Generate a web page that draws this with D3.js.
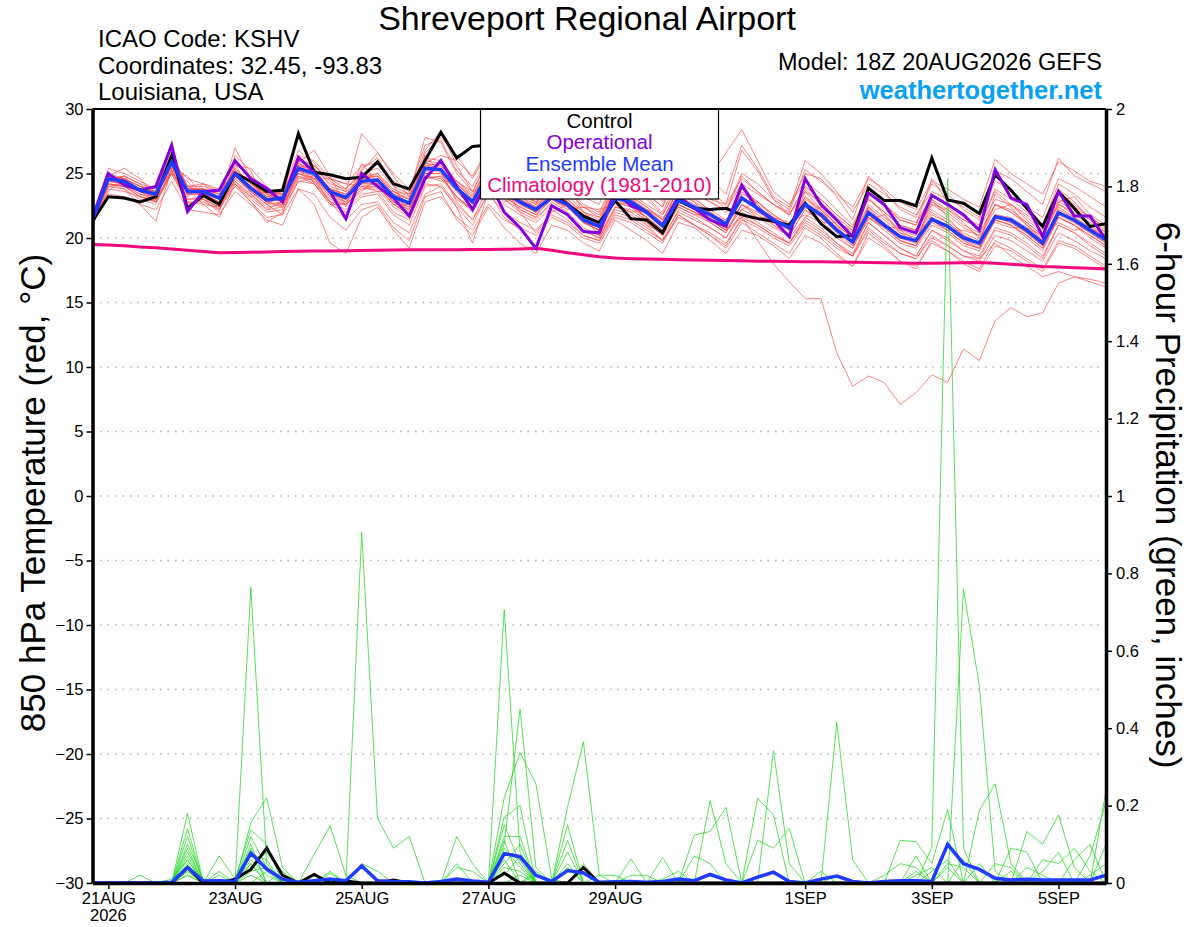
<html>
<head>
<meta charset="utf-8">
<script src="https://d3js.org/d3.v7.min.js"></script>
<style>
  body {margin: 0; background: #fff;}
  text {font-family: "Liberation Sans", Arial, Helvetica, sans-serif;}
</style>
</head>
<body>
<svg id="chart" width="1200" height="927"></svg>
<script>
// ---- data (GEFS 18Z 20AUG2026, 6-hourly, 65 steps) ----
var runStart = new Date(Date.UTC(2026, 7, 20, 18));
var stepHours = 6;
var stepCount = 65;

var tickDates = ["2026-08-21", "2026-08-23", "2026-08-25", "2026-08-27", "2026-08-29", "2026-09-01", "2026-09-03", "2026-09-05"];
var tickLabels = ["21AUG", "23AUG", "25AUG", "27AUG", "29AUG", "1SEP", "3SEP", "5SEP"];
var tempTicks = [-30, -25, -20, -15, -10, -5, 0, 5, 10, 15, 20, 25, 30];
var precipTicks = [0, 0.2, 0.4, 0.6, 0.8, 1, 1.2, 1.4, 1.6, 1.8, 2];

var controlTemp = [21.3,
  23.2,23.1,22.8,23.2, 26.4,22.3,23.3,22.6, 25.0,24.4,23.6,23.7, 28.1,25.1,24.9,24.6,
  24.7,25.9,24.2,23.8, 26.0,28.2,26.2,27.1, 27.2,26.0,25.0,24.3, 23.5,22.6,21.7,21.2,
  22.9,21.5,21.4,20.4, 22.9,22.3,22.2,22.3, 21.8,21.5,21.3,21.0, 22.7,21.1,20.1,20.2,
  23.85,22.9,22.9,22.5, 26.2,22.95,22.7,21.9, 24.9,23.7,22.3,20.9, 23.6,22.3,20.9,21.1];

var operTemp = [21.6,
  25.0,24.1,23.7,24.0, 27.2,22.05,23.6,23.7, 26.0,24.6,23.85,22.8, 26.25,25.1,23.6,21.5,
  25.0,24.0,23.1,21.7, 24.6,26.0,24.0,22.2, 24.5,22.0,20.8,19.2, 22.5,21.8,20.5,20.4,
  23.6,22.5,22.0,21.0, 23.2,22.3,21.4,20.9, 24.1,22.2,21.4,20.1, 24.6,22.6,21.4,20.1,
  23.5,22.6,20.8,20.4, 23.3,22.6,21.8,20.6, 25.3,23.1,22.6,20.1, 23.6,21.7,21.7,19.85];

var meanTemp = [21.4,
  24.6,24.4,23.7,23.4, 25.9,23.6,23.6,23.1, 25.0,23.85,22.95,23.1, 25.4,25.0,23.6,23.15,
  24.4,24.5,23.2,22.7, 25.4,25.3,23.85,22.8, 25.0,23.6,22.8,22.2, 23.15,22.6,21.4,20.9,
  23.1,22.8,22.0,20.95, 22.95,22.4,21.8,21.1, 23.1,22.3,21.4,20.8, 22.6,21.8,20.6,19.7,
  21.96,21.0,20.1,19.8, 21.45,20.9,20.0,19.6, 21.65,21.4,20.6,19.6, 21.96,21.4,20.6,19.85];

var climTemp = [19.5,
  19.45,19.4,19.3,19.25, 19.15,19.05,18.95,18.85, 18.87,18.9,18.92,18.95, 18.97,19.0,19.0,19.02,
  19.03,19.05,19.07,19.08, 19.08,19.08,19.08,19.1, 19.1,19.12,19.15,19.2, 19.05,18.85,18.7,18.55,
  18.45,18.4,18.37,18.35, 18.32,18.3,18.28,18.25, 18.23,18.2,18.2,18.18, 18.16,18.15,18.14,18.12,
  18.1,18.08,18.06,18.04, 18.05,18.07,18.08,18.1, 18.05,17.97,17.88,17.8, 17.75,17.7,17.65,17.6];

var memberTemps = [
 [21.6, 25.4,25.0,24.4,23.8, 26.6,24.0,24.2,23.6, 25.8,24.6,23.6,23.4, 26.4,26.0,24.6,24.2, 25.6,25.8,24.4,23.6, 27.2,27.6,25.2,24.0, 26.4,25.0,24.0,23.4, 24.6,23.8,22.6,22.0, 24.6,24.0,23.2,22.0, 24.6,23.6,22.8,22.0, 24.8,23.6,22.6,21.8, 24.0,23.0,21.8,20.8, 23.6,22.4,21.4,21.0, 23.4,22.4,21.4,20.8, 23.8,23.0,22.0,21.0, 24.2,23.4,22.4,21.6],
 [21.0, 24.0,23.8,23.0,22.6, 25.2,22.8,22.8,22.2, 24.2,23.0,22.0,22.2, 24.4,24.2,22.6,22.0, 23.2,23.4,21.8,21.0, 24.0,24.2,22.6,21.4, 23.4,22.0,21.2,20.6, 21.8,21.2,20.2,19.8, 21.8,21.4,20.6,19.8, 21.6,21.0,20.4,19.6, 21.4,20.8,20.0,19.4, 21.0,20.2,19.2,18.6, 20.6,19.6,18.8,18.4, 20.0,19.4,18.6,18.2, 20.2,19.8,19.0,18.2, 20.4,19.8,19.0,18.4],
 [21.3, 24.8,24.2,23.6,23.2, 25.6,23.4,23.8,23.0, 25.2,24.2,23.4,23.0, 26.0,25.6,24.4,23.6, 28.1,26.6,24.8,23.2, 26.8,28.3,25.6,23.6, 26.0,24.4,23.2,22.4, 23.8,22.8,21.8,21.2, 23.6,23.0,22.2,21.4, 23.8,23.0,22.2,21.4, 23.4,22.8,21.8,21.0, 23.0,22.2,21.0,20.0, 22.6,21.6,20.6,20.2, 22.2,21.4,20.4,19.8, 22.6,22.0,21.0,20.0, 22.6,21.8,21.0,20.2],
 [21.2, 24.4,24.6,23.8,23.6, 26.2,23.6,23.4,22.8, 27.0,24.6,22.8,22.4, 25.0,24.4,22.8,21.4, 22.6,22.8,21.2,20.4, 23.4,24.0,22.4,21.0, 23.6,22.6,21.8,21.2, 22.4,21.8,20.6,20.0, 22.4,22.2,21.4,20.4, 22.4,21.8,21.2,20.4, 22.6,21.6,20.8,20.2, 22.2,21.2,20.0,19.2, 21.6,20.6,19.6,19.2, 21.0,20.4,19.4,19.0, 21.4,21.0,20.0,19.0, 21.6,21.0,20.0,19.2],
 [21.5, 24.2,23.8,22.6,21.3, 25.4,23.8,23.8,23.4, 24.8,23.6,22.6,23.4, 25.6,25.4,23.8,23.0, 24.8,25.0,23.8,23.2, 26.2,26.0,24.4,23.2, 25.6,24.2,23.4,22.8, 24.2,23.6,22.4,21.8, 24.4,24.0,23.4,22.4, 25.2,24.4,24.8,26.6, 28.4,26.0,23.6,22.6, 24.4,23.4,22.2,21.0, 23.4,22.6,21.6,21.2, 23.0,22.2,21.4,20.8, 23.0,22.6,21.8,20.8, 23.0,22.4,21.6,20.8],
 [21.4, 24.6,24.2,23.8,23.4, 25.6,23.4,23.6,23.0, 25.0,23.8,22.8,23.0, 25.2,24.6,23.4,23.0, 24.2,24.2,22.8,22.2, 25.0,25.0,23.6,22.4, 24.6,23.2,22.4,21.8, 23.0,22.4,21.2,20.8, 22.8,22.6,21.8,20.8, 22.6,22.0,21.4,20.6, 21.6,19.8,18.0,16.6, 15.3,15.3,11.1,8.5, 9.3,8.8,7.1,8.0, 9.4,8.8,11.4,10.5, 13.6,14.6,13.9,14.2, 16.5,17.0,16.8,16.5],
 [21.2, 24.2,24.0,23.4,23.0, 25.2,23.0,23.2,22.6, 24.4,23.4,22.4,22.6, 24.8,24.4,23.0,22.6, 23.8,24.0,22.6,21.8, 24.6,24.8,23.2,22.0, 24.2,23.0,22.0,21.4, 22.8,22.0,20.8,20.2, 22.4,22.0,21.2,20.2, 22.0,21.4,20.8,20.0, 21.8,21.0,20.2,19.6, 21.2,20.4,19.4,18.6, 20.8,19.8,18.8,18.4, 20.2,19.4,18.6,18.4, 19.6,18.6,17.8,17.0, 17.4,17.0,16.6,16.2],
 [21.6, 24.8,24.6,24.0,23.8, 26.0,24.0,23.4,23.2, 25.4,24.2,23.4,23.6, 25.8,25.2,23.8,23.4, 24.6,24.8,23.6,23.0, 25.8,25.6,24.2,23.2, 25.4,24.0,23.2,22.6, 23.6,23.0,22.0,21.6, 23.8,23.4,22.6,21.8, 24.0,23.4,22.8,22.2, 24.2,23.4,22.6,22.0, 25.3,24.4,23.4,22.4, 24.6,23.8,22.8,22.2, 24.4,23.8,23.0,22.4, 26.1,25.0,24.2,23.4, 25.9,25.2,24.4,24.0],
 [21.0, 23.8,23.6,23.2,22.8, 25.0,22.6,23.0,22.4, 24.0,22.8,21.6,21.8, 23.8,22.6,19.6,18.8, 21.6,22.4,20.6,19.2, 22.8,23.2,21.6,20.6, 22.6,21.4,20.8,20.2, 21.6,21.0,20.0,19.6, 21.6,21.2,20.4,19.6, 21.8,21.0,20.2,19.4, 21.6,21.0,20.2,19.6, 21.4,20.6,19.6,18.8, 21.2,20.2,19.2,18.6, 20.6,19.8,19.0,18.6, 20.8,20.4,19.6,18.6, 21.0,20.4,19.4,18.6],
 [21.4, 24.6,24.8,24.2,23.8, 26.4,24.0,24.0,23.6, 25.2,24.0,23.2,23.6, 26.8,25.8,24.0,23.6, 24.6,25.0,23.6,23.0, 25.6,25.8,24.2,23.0, 25.2,23.8,22.8,22.0, 23.4,22.8,21.6,21.0, 23.4,23.0,22.2,21.2, 23.2,22.6,22.0,21.2, 23.0,22.4,21.6,20.8, 22.8,22.0,20.8,19.8, 22.2,21.2,20.2,19.8, 21.8,21.2,20.2,19.6, 21.8,21.6,20.8,19.8, 22.2,21.6,20.8,20.0],
 [21.1, 24.4,24.2,23.4,23.2, 25.8,23.6,23.4,22.8, 24.8,23.6,22.8,22.6, 25.2,25.0,23.4,22.8, 24.0,24.2,22.8,22.4, 25.2,25.4,23.8,22.4, 24.8,23.4,22.6,22.0, 23.2,22.4,21.2,20.6, 23.0,22.6,21.6,20.6, 23.2,22.4,21.6,20.8, 23.6,22.6,21.4,20.6, 23.2,22.0,20.8,19.6, 22.4,21.0,19.8,19.4, 21.6,20.8,19.8,19.2, 21.6,21.2,20.4,19.4, 22.4,21.6,20.8,20.0],
 [21.5, 24.8,24.4,23.6,23.4, 26.0,23.8,23.8,23.2, 25.2,24.4,23.4,23.4, 25.6,25.4,24.2,23.8, 25.0,25.4,24.0,23.4, 27.8,27.4,25.0,23.6, 26.2,24.6,23.6,22.8, 24.0,23.4,22.0,21.4, 23.6,23.2,22.4,21.4, 23.4,22.8,22.0,21.2, 23.8,22.8,21.8,21.0, 23.2,22.2,21.0,20.0, 22.4,21.4,20.4,20.0, 22.0,21.2,20.2,19.6, 21.8,21.4,20.4,19.4, 22.0,21.2,20.4,19.6],
 [21.2, 24.2,24.0,23.2,22.8, 25.4,23.0,23.0,22.4, 24.4,23.2,22.2,22.4, 24.8,24.2,22.8,22.2, 23.4,23.6,22.0,21.4, 24.2,24.0,22.4,19.6, 23.6,21.6,20.6,19.2, 22.2,21.4,20.2,19.8, 22.0,21.6,20.8,19.8, 22.2,21.6,20.8,20.0, 22.0,21.2,20.4,19.6, 21.6,20.8,19.6,18.6, 21.2,20.2,19.2,18.6, 20.6,20.0,19.0,18.4, 20.6,20.2,19.4,18.4, 21.0,20.4,19.6,18.8],
 [21.3, 24.6,24.6,24.0,23.6, 26.2,23.8,23.6,23.2, 25.0,24.0,23.0,23.2, 25.4,25.2,23.6,23.2, 24.4,24.6,23.2,22.8, 25.6,25.4,24.0,22.8, 25.0,23.8,23.0,22.4, 23.4,22.8,21.6,21.0, 23.2,22.8,22.0,21.0, 23.0,22.4,21.8,21.0, 23.0,22.2,21.4,20.8, 22.6,21.8,20.6,19.6, 22.0,21.0,20.0,19.6, 21.6,20.8,19.8,19.4, 21.6,21.2,20.4,19.4, 21.8,21.2,20.4,19.6],
 [21.6, 24.8,24.6,24.0,23.6, 26.0,23.8,23.8,23.4, 25.2,24.2,23.2,23.4, 25.6,25.2,23.8,23.4, 24.8,24.8,23.4,23.0, 26.0,25.8,24.4,23.4, 25.6,24.6,23.8,23.4, 26.0,24.6,23.2,22.6, 26.0,24.8,23.4,22.4, 26.2,25.0,23.6,22.6, 24.6,23.6,22.6,21.8, 24.0,23.0,21.8,20.8, 23.0,22.0,21.0,20.6, 22.6,21.8,20.8,20.2, 22.6,22.0,21.2,20.2, 22.6,22.0,21.2,20.4],
 [21.2, 24.4,24.2,23.6,23.2, 25.6,23.4,23.4,22.8, 24.6,23.6,22.6,22.8, 25.0,24.6,23.2,22.8, 24.0,24.0,22.6,22.0, 24.8,24.6,23.2,22.2, 24.4,23.0,22.2,21.6, 22.6,21.8,20.6,20.0, 22.2,21.8,21.0,19.8, 21.8,21.0,20.2,19.2, 21.2,20.4,19.6,18.8, 20.8,20.0,18.8,17.8, 20.4,19.4,18.2,17.6, 19.8,19.0,18.2,17.6, 19.8,19.2,18.4,17.6, 19.8,19.4,18.6,17.8],
 [21.4, 24.6,24.4,23.8,23.4, 25.8,23.6,23.8,23.4, 25.4,24.2,23.2,23.0, 25.4,25.0,23.8,23.4, 24.6,24.8,23.4,22.8, 25.4,25.6,24.2,23.0, 25.2,23.8,23.0,22.4, 23.6,23.0,21.8,21.2, 23.6,23.2,22.4,21.4, 23.8,23.4,23.0,22.6, 26.8,25.2,23.0,21.8, 23.6,22.8,21.6,20.6, 23.0,22.0,21.0,20.6, 22.8,22.0,21.0,20.4, 22.6,22.2,21.2,20.2, 22.8,22.2,21.4,20.6],
 [21.2, 24.2,24.0,23.2,23.0, 25.0,22.8,22.6,21.6, 24.2,22.8,21.2,22.0, 24.4,24.6,22.8,22.6, 23.8,23.8,22.4,21.6, 24.6,24.8,23.2,22.2, 24.6,23.2,22.4,21.8, 23.0,22.4,21.2,20.6, 22.8,22.4,21.6,20.6, 22.6,22.0,21.2,20.4, 22.6,21.8,21.0,20.2, 22.2,21.4,20.2,19.2, 21.6,20.8,19.8,19.4, 21.2,20.6,19.6,19.2, 21.4,21.0,20.2,19.2, 21.6,21.0,20.2,19.4],
 [21.5, 24.6,24.4,23.8,23.6, 25.8,23.8,23.6,23.2, 25.0,24.0,23.2,23.2, 25.4,25.2,23.4,23.0, 24.4,24.4,23.0,22.6, 25.2,25.2,23.8,22.6, 24.8,23.6,22.8,22.2, 23.2,22.8,21.4,20.8, 23.2,22.8,22.0,21.0, 23.0,22.4,21.8,21.0, 23.0,22.4,21.4,20.8, 23.8,22.6,21.4,20.4, 23.8,22.6,21.4,21.0, 24.6,22.8,21.6,21.0, 23.6,22.6,21.6,20.6, 23.6,22.6,21.6,20.8],
 [21.3, 24.4,24.2,23.6,23.2, 25.6,23.4,23.4,23.0, 24.8,23.8,23.0,23.0, 25.2,24.8,23.4,23.0, 24.2,24.2,22.8,22.2, 25.0,25.0,23.6,22.4, 24.6,23.4,22.6,22.0, 23.0,22.4,21.2,20.6, 22.8,22.4,21.6,20.6, 22.6,22.0,21.4,20.6, 22.6,22.0,21.2,20.6, 22.4,21.6,20.4,19.4, 21.8,20.8,19.8,19.4, 21.4,20.6,19.6,19.2, 21.4,21.0,20.2,19.2, 21.6,21.0,20.2,19.4],
 [21.0, 23.6,24.8,24.2,22.8, 25.0,24.4,23.0,22.0, 26.4,25.2,22.6,21.8, 25.8,26.8,24.8,22.4, 25.4,26.2,24.2,21.6, 26.6,27.8,26.4,24.6, 26.8,25.2,23.6,22.6, 25.4,24.2,22.0,21.0, 24.8,25.6,24.0,22.8, 25.6,25.8,24.6,23.4, 27.2,25.4,23.2,22.4, 25.0,24.6,23.2,21.4, 24.8,23.6,22.2,21.6, 24.2,23.4,22.2,21.4, 25.2,24.6,23.6,22.6, 26.2,24.8,24.2,23.6],
 [21.1, 23.4,23.2,22.6,22.2, 24.4,22.2,22.0,21.8, 23.6,22.6,21.4,21.0, 23.8,23.4,21.6,20.6, 22.2,22.6,20.8,19.8, 23.2,23.6,21.4,20.2, 22.4,20.8,19.6,18.8, 21.0,20.6,19.6,19.0, 21.4,20.6,19.8,18.8, 21.2,20.8,19.8,18.8, 20.6,20.2,19.4,18.4, 20.2,19.6,18.6,17.8, 20.0,19.2,18.2,17.8, 19.6,19.0,18.0,17.4, 19.4,19.0,18.2,17.4, 19.6,19.2,18.4,17.6],
 [21.4, 24.8,25.4,24.6,23.2, 25.8,24.6,24.2,23.0, 25.6,25.4,24.0,22.8, 26.2,25.6,24.6,23.8, 25.2,26.6,25.0,23.8, 25.8,26.4,26.0,24.8, 27.0,26.8,24.2,22.6, 24.4,23.6,22.4,21.6, 24.0,24.4,23.0,21.8, 24.2,24.6,23.4,22.2, 25.0,24.2,23.0,22.2, 26.0,25.0,23.6,22.0, 24.2,23.4,22.4,21.8, 23.6,23.0,22.4,21.6, 24.4,23.8,22.4,21.6, 24.6,24.0,23.2,22.4],
 [21.2, 24.0,24.2,23.8,23.4, 25.2,24.8,23.2,22.2, 24.6,24.8,23.8,22.4, 24.6,24.8,23.2,22.6, 23.6,24.6,23.0,22.4, 25.8,25.2,22.8,21.4, 24.0,23.8,22.0,20.4, 22.0,22.6,21.6,20.2, 23.0,23.4,21.2,20.2, 22.6,23.2,22.0,20.6, 22.2,22.8,21.6,20.0, 21.6,22.4,21.0,19.4, 21.4,21.8,20.6,19.8, 22.6,22.2,21.2,20.0, 22.2,22.6,21.4,20.4, 22.8,23.2,21.8,21.0],
 [21.5, 25.0,24.6,23.6,22.8, 26.6,23.8,22.6,22.4, 25.8,23.4,22.2,22.8, 26.0,24.2,22.6,22.6, 25.8,24.2,22.6,22.6, 26.4,25.0,23.0,22.2, 25.8,23.8,22.2,21.6, 24.2,22.8,21.2,20.6, 24.2,22.6,21.0,20.4, 24.4,22.8,21.4,20.6, 24.2,22.6,21.0,20.2, 23.6,22.2,20.6,19.8, 23.2,21.8,20.4,19.6, 23.0,21.6,20.2,19.6, 23.4,22.4,21.0,19.8, 23.8,22.8,21.4,20.4],
 [21.3, 24.4,24.8,23.6,23.6, 25.2,23.2,24.2,23.8, 24.2,23.2,23.6,23.8, 25.0,24.6,24.6,24.2, 24.0,23.6,23.6,23.4, 24.8,24.4,24.4,23.6, 24.2,22.8,23.2,23.0, 23.0,22.2,22.4,22.2, 22.6,22.0,22.2,21.6, 22.4,21.8,21.8,21.4, 22.2,21.6,21.6,21.2, 21.8,21.2,21.2,20.6, 21.6,20.8,20.8,20.4, 21.4,20.6,20.6,20.2, 21.2,20.8,20.8,20.2, 21.2,20.6,20.8,20.2]
];

var controlPrecip = [0,
  0,0,0,0, 0,.04,0,0, .01,.035,.09,.02, 0,.022,0,.005,
  0,0,.008,0, 0,0,0,0, 0,.025,0,0, 0,0,.04,0,
  0,0,0,0, 0,0,0,0, 0,0,0,0, 0,0,0,0,
  0,0,0,0, 0,0,0,0, 0,0,0,0, 0,0,0,0];

var meanPrecip = [0,
  0,0,0,0, .002,.04,.005,.006, .004,.077,.036,.01, .002,.006,.01,.006,
  .044,.006,.004,.003, 0,.004,.01,.005, .002,.076,.068,.02, .004,.032,.026,.002,
  .003,.004,.002,.004, .01,.006,.022,.008, 0,.015,.028,.004, 0,.01,.018,.004,
  0,.004,.006,.006, .004,.1,.05,.035, .012,.008,.01,.008, .008,.008,.008,.02];

// members: [step, inches] for the steps with rain, every other step is 0
var memberPrecipRain = [
  [[6,.18],[10,.764],[11,.05],[26,.1],[27,.45],[28,.04],[43,.342],[44,.05],[54,.04]],
  [[6,.1],[7,.01],[17,.907],[18,.167],[19,.09],[20,.12],[26,.707],[27,.08],[39,.213],[40,.05]],
  [[6,.08],[10,.156],[11,.22],[12,.04],[26,.22],[27,.337],[28,.256],[29,.01],[47,.415],[48,.06]],
  [[6,.07],[8,.07],[9,.01],[10,.137],[11,.1],[23,.12],[24,.05],[30,.196],[31,.365],[32,.02],[53,.092],[54,1.82],[55,.09]],
  [[6,.06],[10,.1],[14,.074],[15,.148],[16,.02],[26,.17],[27,.2],[30,.15],[42,.219],[43,.176],[55,.759],[56,.51],[57,.03]],
  [[3,.02],[6,.05],[10,.075],[11,.06],[26,.12],[27,.12],[30,.11],[38,.124],[39,.133],[40,.195],[56,.187],[57,.256],[58,.05]],
  [[6,.04],[8,.03],[10,.05],[12,.03],[26,.08],[27,.06],[31,.04],[36,.066],[51,.11],[52,.107],[53,.05],[54,.19],[64,.24]],
  [[6,.03],[10,.03],[11,.04],[15,.03],[26,.06],[28,.03],[30,.05],[34,.062],[42,.11],[43,.09],[44,.141],[59,.133],[60,.1],[61,.176],[62,.04]],
  [[6,.02],[11,.03],[14,.02],[23,.05],[26,.04],[27,.03],[38,.07],[39,.05],[52,.07],[55,.06],[58,.09],[59,.08],[63,.07],[64,.21]],
  [[6,.02],[10,.02],[15,.025],[17,.05],[18,.03],[26,.03],[30,.03],[31,.03],[34,.02],[35,.02],[46,.03],[50,.02],[51,.05],[52,.04],[56,.05],[60,.06],[61,.05],[62,.09],[63,.03]],
  [[6,.09],[10,.12],[11,.04],[23,.04],[24,.03],[26,.05],[27,.1],[36,.01],[37,.03],[54,.05],[55,.04],[62,.06],[63,.1]],
  [[6,.12],[10,.09],[26,.15],[27,.05],[32,.02],[33,.02],[57,.05],[58,.04],[64,.1]],
  [[5,.01],[6,.06],[8,.02],[10,.06],[11,.02],[26,.09],[27,.04],[30,.08],[53,.03],[54,.06],[60,.03],[61,.08]],
  [[6,.03],[10,.04],[11,.08],[12,.02],[26,.02],[27,.07],[52,.02],[53,.04],[58,.03]],
  [[6,.14],[10,.05],[27,.02],[31,.05],[47,.02],[59,.04],[60,.02]],
  [[6,.04],[7,.01],[26,.11],[28,.02],[30,.04],[52,.03],[63,.02],[64,.05]]
];

// ---- chart ----
var svg = d3.select("#chart");
var plot = {left: 92.5, right: 1106, top: 109, bottom: 883};

var times = d3.range(stepCount).map(function(i) { return d3.utcHour.offset(runStart, i * stepHours); });
var x = d3.scaleUtc().domain([times[0], times[stepCount - 1]]).range([plot.left, plot.right]);
var yT = d3.scaleLinear().domain([-30, 30]).range([plot.bottom, plot.top]);
var yP = d3.scaleLinear().domain([0, 2]).range([plot.bottom, plot.top]);

var memberPrecips = memberPrecipRain.map(function(rain) {
  var s = times.map(function() { return 0; });
  rain.forEach(function(r) { s[r[0]] = r[1]; });
  return s;
});

var lineT = d3.line().x(function(d, i) { return x(times[i]); }).y(function(d) { return yT(d); });
var lineP = d3.line().x(function(d, i) { return x(times[i]); }).y(function(d) { return yP(d); });

svg.append("clipPath").attr("id", "plotclip").append("rect")
  .attr("x", plot.left).attr("y", plot.top)
  .attr("width", plot.right - plot.left).attr("height", plot.bottom - plot.top);

// dotted grid
svg.append("g").selectAll("line").data(tempTicks.filter(function(v) { return v > -30 && v < 30; }))
  .enter().append("line")
  .attr("x1", plot.left).attr("x2", plot.right)
  .attr("y1", function(d) { return yT(d); }).attr("y2", function(d) { return yT(d); })
  .attr("stroke", "#b4b4b4").attr("stroke-width", 1.3).attr("stroke-dasharray", "1.5,6");

var lines = svg.append("g").attr("clip-path", "url(#plotclip)");

lines.selectAll(".tmem").data(memberTemps).enter().append("path")
  .attr("class", "tmem").attr("d", lineT)
  .attr("fill", "none").attr("stroke", "#ff4a4a").attr("stroke-width", 0.8).attr("stroke-opacity", 0.85);

lines.selectAll(".pmem").data(memberPrecips).enter().append("path")
  .attr("class", "pmem").attr("d", lineP)
  .attr("fill", "none").attr("stroke", "#2fd82f").attr("stroke-width", 0.8);

lines.append("path").attr("d", lineP(controlPrecip))
  .attr("fill", "none").attr("stroke", "#000").attr("stroke-width", 3);
lines.append("path").attr("d", lineP(meanPrecip))
  .attr("fill", "none").attr("stroke", "#1f3bff").attr("stroke-width", 3.5);

lines.append("path").attr("d", lineT(climTemp))
  .attr("fill", "none").attr("stroke", "#f0087c").attr("stroke-width", 3);
lines.append("path").attr("d", lineT(controlTemp))
  .attr("fill", "none").attr("stroke", "#000").attr("stroke-width", 3);
lines.append("path").attr("d", lineT(operTemp))
  .attr("fill", "none").attr("stroke", "#8400dc").attr("stroke-width", 3);
lines.append("path").attr("d", lineT(meanTemp))
  .attr("fill", "none").attr("stroke", "#1f3bff").attr("stroke-width", 3.5);

// legend
var legend = svg.append("g");
legend.append("rect").attr("x", 480.5).attr("y", plot.top).attr("width", 238).attr("height", 90)
  .attr("fill", "#fff").attr("stroke", "#000").attr("stroke-width", 1.2);
var legendItems = [["Control", "#000"], ["Operational", "#8400dc"], ["Ensemble Mean", "#1f3bff"], ["Climatology (1981-2010)", "#f0087c"]];
legend.selectAll("text").data(legendItems).enter().append("text")
  .attr("x", 599.5).attr("y", function(d, i) { return 128 + i * 21.3; })
  .attr("text-anchor", "middle").attr("font-size", "20.5px")
  .attr("fill", function(d) { return d[1]; }).text(function(d) { return d[0]; });

// frame and axes
svg.append("line").attr("x1", plot.left).attr("x2", plot.right).attr("y1", plot.top).attr("y2", plot.top)
  .attr("stroke", "#000").attr("stroke-width", 2);

var axL = svg.append("g").attr("transform", "translate(" + plot.left + ",0)")
  .call(d3.axisLeft(yT).tickValues(tempTicks).tickSize(6).tickSizeOuter(0).tickPadding(3));
var axR = svg.append("g").attr("transform", "translate(" + plot.right + ",0)")
  .call(d3.axisRight(yP).tickValues(precipTicks).tickSize(6).tickSizeOuter(0).tickPadding(4).tickFormat(d3.format("~g")));
var axB = svg.append("g").attr("transform", "translate(0," + plot.bottom + ")")
  .call(d3.axisBottom(x).tickValues(tickDates.map(function(d) { return new Date(d + "T00:00:00Z"); }))
    .tickFormat(function(d, i) { return tickLabels[i]; }).tickSize(6).tickSizeOuter(0).tickPadding(3));

[axL, axR, axB].forEach(function(a) {
  a.select(".domain").attr("stroke", "#000").attr("stroke-width", 3.5);
  a.selectAll(".tick line").attr("stroke", "#000").attr("stroke-width", 1.5);
  a.selectAll(".tick text").attr("font-size", "16.5px").attr("fill", "#000")
    .attr("font-family", "'Liberation Sans', Arial, sans-serif");
});

svg.append("text").attr("x", x(new Date(tickDates[0] + "T00:00:00Z"))).attr("y", 921)
  .attr("text-anchor", "middle").attr("font-size", "16.5px").text("2026");

// titles
svg.append("text").attr("x", 587).attr("y", 30).attr("text-anchor", "middle")
  .attr("font-size", "34px").text("Shreveport Regional Airport");
var info = ["ICAO Code: KSHV", "Coordinates: 32.45, -93.83", "Louisiana, USA"];
svg.selectAll(".info").data(info).enter().append("text").attr("class", "info")
  .attr("x", 98).attr("y", function(d, i) { return 47 + i * 26.5; })
  .attr("font-size", "24px").text(function(d) { return d; });
svg.append("text").attr("x", 1102).attr("y", 70).attr("text-anchor", "end")
  .attr("font-size", "23.5px").text("Model: 18Z 20AUG2026 GEFS");
svg.append("text").attr("x", 1102).attr("y", 99).attr("text-anchor", "end")
  .attr("font-size", "25.5px").attr("font-weight", "bold").attr("fill", "#09a0f8").text("weathertogether.net");

svg.append("text").attr("transform", "translate(45,493) rotate(-90)").attr("text-anchor", "middle")
  .attr("font-size", "35px").text("850 hPa Temperature (red, \u00B0C)");
svg.append("text").attr("transform", "translate(1156,495) rotate(90)").attr("text-anchor", "middle")
  .attr("font-size", "35px").text("6-hour Precipitation (green, inches)");

// sanity check on series lengths
var bad = [controlTemp, operTemp, meanTemp, climTemp, controlPrecip, meanPrecip].concat(memberTemps)
  .map(function(s) { return s.length; }).filter(function(n) { return n !== stepCount; });
if (bad.length) svg.append("text").attr("x", 600).attr("y", 500).attr("fill", "red").text("LEN " + bad.join(","));
</script>
</body>
</html>
